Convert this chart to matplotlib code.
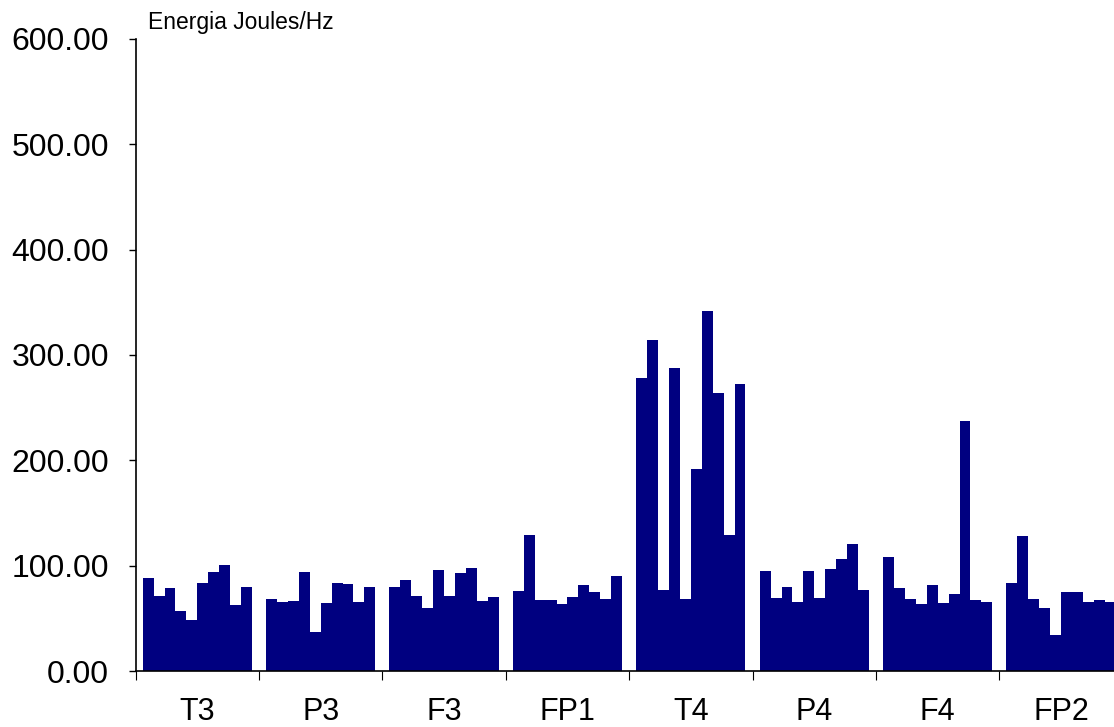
import matplotlib
matplotlib.use("Agg")
import matplotlib.pyplot as plt
import numpy as np
from matplotlib.ticker import FormatStrFormatter, FixedLocator

plt.rcParams['font.family'] = ['Liberation Sans', 'DejaVu Sans']

groups = ["T3", "P3", "F3", "FP1", "T4", "P4", "F4", "FP2"]

T3 = [88.0, 71.5, 78.6, 56.7, 48.7, 83.3, 94.3, 101.0, 62.7, 80.1]
P3 = [68.4, 65.5, 66.8, 94.3, 36.8, 64.6, 83.3, 82.3, 65.5, 80.1]
F3 = [79.5, 86.4, 71.5, 59.8, 95.6, 71.5, 93.4, 98.1, 66.8, 70.6]
FP1 = [75.7, 128.9, 67.7, 67.7, 63.6, 70.6, 81.4, 75.3, 68.7, 90.2]
T4 = [278.0, 314.6, 76.6, 287.7, 68.4, 191.5, 341.6, 264.0, 128.9, 272.8]
P4 = [95.0, 69.3, 79.5, 65.5, 95.0, 69.3, 96.6, 106.1, 120.3, 76.6]
F4 = [108.3, 78.5, 68.4, 63.6, 81.7, 64.6, 73.4, 237.1, 67.4, 65.5]
FP2 = [83.6, 127.9, 68.4, 59.5, 33.9, 75.3, 74.7, 65.5, 67.4, 65.5]

data = [T3, P3, F3, FP1, T4, P4, F4, FP2]
yticks = [0, 100, 200, 300, 400, 500, 600]

fig = plt.figure(figsize=(11.14, 7.27), dpi=100)
ax = fig.add_axes([0.1217, 0.0770, 0.8862, 0.8694])

n = len(T3)
w = 1.0 / (n + 1.3)
for gi, vals in enumerate(data):
    xs = gi + (np.arange(n) - (n - 1) / 2) * w
    ax.bar(xs, vals, width=w, color="#000080", edgecolor="none", linewidth=0)

ax.set_xlim(-0.5, len(groups) - 0.5)
ax.set_ylim(0, 600)
ax.set_yticks(yticks)
ax.yaxis.set_major_formatter(FormatStrFormatter('%.2f'))
ax.set_xticks(range(len(groups)))
ax.set_xticklabels(groups)
ax.xaxis.set_minor_locator(FixedLocator(np.arange(-0.5, len(groups), 1.0)))
ax.tick_params(axis='x', which='major', length=0, pad=19, labelsize=22)
ax.tick_params(axis='x', which='minor', length=6.5, width=0.8, direction='out')
ax.tick_params(axis='y', length=5, width=1, direction='out', pad=14, labelsize=23)

for s in ['top', 'right']:
    ax.spines[s].set_visible(False)
for s in ['left', 'bottom']:
    ax.spines[s].set_linewidth(1.2)

fig.text(148 / 1114, 1 - 29.5 / 727, "Energia Joules/Hz", fontsize=16.5,
         ha='left', va='baseline')

fig.savefig("out.png", dpi=100)
